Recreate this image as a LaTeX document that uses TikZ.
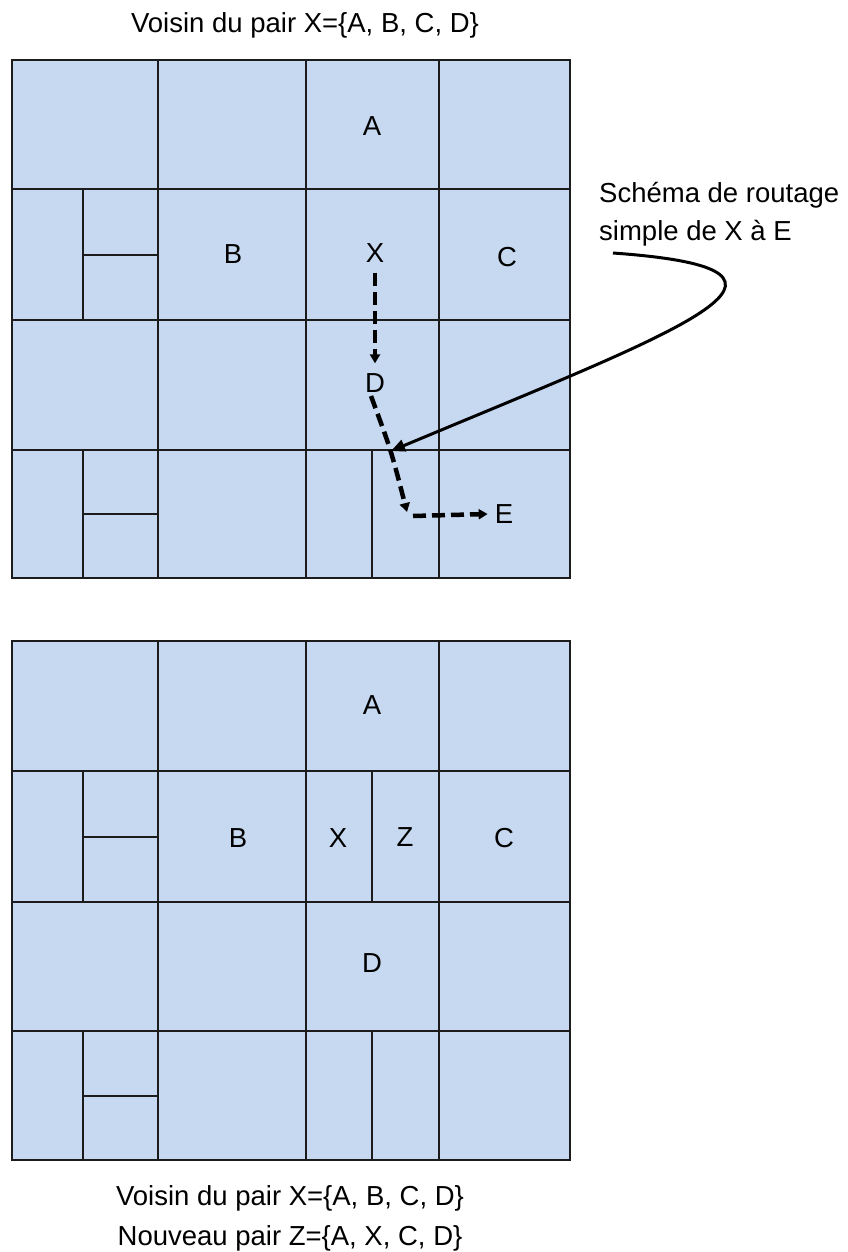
\documentclass[tikz,border=0pt]{standalone}
\usepackage{fontspec}
\setmainfont{Liberation Sans}
\usetikzlibrary{arrows.meta}
\definecolor{cellblue}{RGB}{198,217,240}
\definecolor{linec}{RGB}{28,28,28}
\tikzset{
  gridline/.style={draw=linec,line width=2pt},
  outerbox/.style={draw=linec,line width=2.4pt},
  lbl/.style={inner sep=0pt,font=\fontsize{27.5}{33}\selectfont},
  route/.style={line width=4.5pt,dash pattern=on 13pt off 6pt,-{Triangle[length=9pt,width=10pt]}},
  pointer/.style={line width=3pt,-{Triangle[length=14pt,width=12pt]}}
}
\begin{document}
\begin{tikzpicture}[x=1pt,y=-1pt]
\useasboundingbox (0,0) rectangle (847,1252);

% ---------- grid 1 ----------
\fill[cellblue] (12,60) rectangle (570,578);
\draw[gridline] (12,189) -- (570,189) (12,320) -- (570,320) (12,450) -- (570,450);
\draw[gridline] (158,60) -- (158,578) (306,60) -- (306,578) (439,60) -- (439,578);
\draw[gridline] (83,189) -- (83,320) (83,254.5) -- (158,254.5);
\draw[gridline] (83,450) -- (83,578) (83,514) -- (158,514);
\draw[gridline] (372,450) -- (372,578);
\draw[outerbox] (12,60) rectangle (570,578);

\node[lbl] (A1) at (372,126) {A};
\node[lbl] (B1) at (233,254) {B};
\node[lbl] (X1) at (375,253) {X};
\node[lbl] (C1) at (507,257) {C};
\node[lbl] (D1) at (375,383) {D};
\node[lbl] (E1) at (504,514) {E};

% ---------- grid 2 ----------
\begin{scope}[shift={(0,581)}]
\fill[cellblue] (12,60) rectangle (570,579);
\draw[gridline] (12,190) -- (570,190) (12,321) -- (570,321) (12,450) -- (570,450);
\draw[gridline] (158,60) -- (158,579) (306,60) -- (306,579) (439,60) -- (439,579);
\draw[gridline] (83,190) -- (83,321) (83,255.5) -- (158,255.5);
\draw[gridline] (372,190) -- (372,321);
\draw[gridline] (83,450) -- (83,579) (83,515) -- (158,515);
\draw[gridline] (372,450) -- (372,579);
\draw[outerbox] (12,60) rectangle (570,579);
\end{scope}

\node[lbl] (A2) at (372,705) {A};
\node[lbl] (B2) at (238,838) {B};
\node[lbl] (X2) at (338,838) {X};
\node[lbl] (Z2) at (405,837) {Z};
\node[lbl] (C2) at (504,838) {C};
\node[lbl] (D2) at (372,963) {D};

% ---------- texts ----------
\node[lbl,anchor=base] (title) at (305,33) {Voisin du pair X=\{A, B, C, D\}};
\node[lbl,anchor=base] (bot1) at (290,1205) {Voisin du pair X=\{A, B, C, D\}};
\node[lbl,anchor=base] (bot2) at (290,1245) {Nouveau pair Z=\{A, X, C, D\}};
\node[lbl,anchor=base west] (sch1) at (599,203) {Schéma de routage};
\node[lbl,anchor=base west] (sch2) at (599,240) {simple de X à E};

% ---------- routing ----------
\coordinate (dstart) at (371,396);
\coordinate (hit) at (391,451);
\coordinate (corner) at (407,512);
\coordinate (hstart) at (413,516);
\coordinate (pstart) at (613,253);

\draw[route] ([yshift=-10pt]X1.south) -- ([yshift=10pt]D1.north);
\draw[route] (dstart) .. controls (391,450) .. (corner);
\draw[route] (hstart) -- ([xshift=-7pt]E1.west);

\draw[pointer] (pstart) .. controls (850,270) and (680,330) .. (hit);
\end{tikzpicture}
\end{document}
